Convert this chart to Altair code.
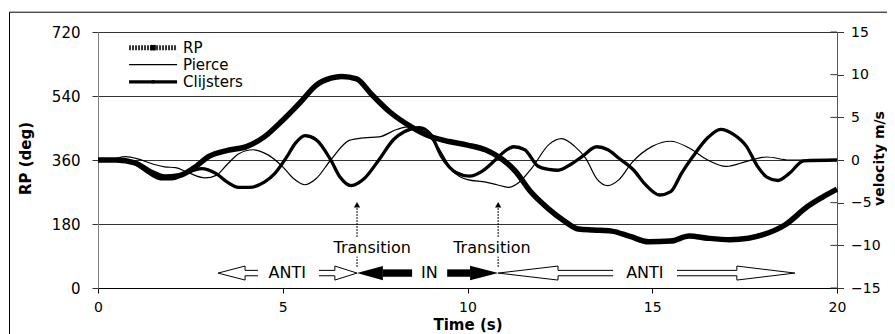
import altair as alt
import pandas as pd

# ---------------- data ----------------
rp_t = [0, 0.5, 1.0, 1.4, 1.8, 2.2, 2.6, 3.0, 3.5, 4.0, 4.5, 5.0, 5.5, 5.9, 6.3, 6.6,
        7.0, 7.4, 7.9, 8.5, 9.0, 9.5, 10.0, 10.5, 10.9, 11.3, 11.7, 12.2, 12.6, 13.0,
        13.4, 13.9, 14.4, 14.9, 15.5, 16.0, 16.5, 17.1, 17.6, 18.0, 18.6, 19.2, 19.6, 20.0]
rp_deg = [360, 360, 352, 328, 312, 316, 338, 370, 387, 397, 425, 472, 525, 570, 590, 595,
          588, 545, 495, 452, 426, 412, 402, 388, 365, 328, 272, 222, 190, 166,
          163, 160, 145, 130, 132, 146, 140, 136, 140, 150, 178, 229, 255, 278]

pierce_t = [0, 0.4, 0.75, 1.1, 1.5, 1.8, 2.1, 2.4, 2.9, 3.2, 3.5, 3.8, 4.2, 4.6, 5.0, 5.3,
            5.6, 5.9, 6.3, 6.8, 7.2, 7.6, 8.1, 8.45, 8.8, 9.2, 9.6, 10.0, 10.5, 10.8, 11.1,
            11.4, 11.75, 12.2, 12.55, 12.9, 13.2, 13.5, 13.8, 14.1, 14.45, 15.0, 15.5, 16.0,
            16.5, 17.0, 17.6, 18.1, 18.7, 19.0, 20.0]
pierce_v = [0, 0.1, 0.4, 0.1, -0.5, -0.8, -0.9, -1.4, -2.1, -1.8, -0.5, 0.7, 1.2, 0.6, -0.8, -2.2,
            -2.9, -2.2, 0, 2.3, 2.6, 2.7, 3.6, 3.9, 3.4, 1.5, -1.3, -2.3, -2.6, -2.9, -3.2,
            -2.6, -0.9, 1.8, 2.5, 1.6, 0.2, -2.2, -3.0, -2.3, -0.3, 1.6, 2.2, 1.4,
            0, -0.75, -0.1, 0.35, 0, 0, 0]

clij_t = [0, 0.6, 1.0, 1.3, 1.7, 2.0, 2.4, 2.8, 3.2, 3.5, 3.8, 4.1, 4.5, 4.8, 5.1, 5.35, 5.6,
          5.9, 6.3, 6.55, 6.85, 7.2, 7.6, 8.0, 8.3, 8.7, 9.0, 9.3, 9.7, 10.05, 10.4, 10.75,
          11.0, 11.25, 11.55, 11.9, 12.2, 12.45, 12.8, 13.1, 13.5, 13.8, 14.1, 14.5, 14.8,
          15.2, 15.5, 15.8, 16.1, 16.5, 16.85, 17.2, 17.55, 17.85, 18.1, 18.4, 18.7, 19.1, 20.0]
clij_v = [0, 0, -0.4, -1.3, -2.2, -2.2, -1.5, -1.0, -1.6, -2.6, -3.2, -3.2, -2.6, -1.5, 0.3, 2.0, 2.85,
          2.4, 0, -2.0, -3.0, -2.2, 0, 2.4, 3.35, 3.8, 3.0, 0.4, -1.5, -1.9, -1.3, 0,
          1.0, 1.55, 1.2, -0.7, -1.1, -1.2, -0.5, 0.4, 1.55, 1.2, 0.2, -1.2, -2.8,
          -4.1, -3.7, -1.5, 0.4, 2.6, 3.6, 3.0, 1.6, -0.75, -2.0, -2.4, -1.6, -0.1, 0]

x_ticks = [0, 5, 10, 15, 20]
rp_ticks = [0, 180, 360, 540, 720]
vel_ticks = [-15, -10, -5, 0, 5, 10, 15]

# legend (placed in data units of the time / RP scales)
legend_labels = ["RP", "Pierce", "Clijsters"]
legend_y = [676, 628, 580]
legend_width = [5, 1.2, 3.3]
legend_marker = [30, 0, 10]
legend_x0, legend_x1, legend_text_x = 0.84, 2.14, 2.3

# transition annotations
transition_t = [7.01, 10.83]
transition_text_t = [7.42, 10.66]
transition_text_y = 113
dot_upper = [144, 229]
dot_lower = [60, 88]
arrowhead_y = 234

# phase block arrows (single-headed pieces)
arrow_y = 42
arrow_tip = [3.25, 7.01, 7.01, 10.83, 10.83, 18.86]
arrow_base = [3.98, 6.41, 7.71, 10.07, 12.45, 17.29]
arrow_end = [4.33, 5.98, 8.5, 9.45, 13.94, 15.67]
arrow_black = [False, False, True, True, False, False]
hollow_shaft, hollow_head = 7.6, 19.7
phase_labels = ["ANTI", "IN", "ANTI"]
phase_label_t = [5.12, 8.97, 14.8]

FONT = "DejaVu Sans"
PLOT_W, PLOT_H = 739, 256
PX_PER_T = PLOT_W / 20.0

# ---------------- scales & axes ----------------
XS = alt.Scale(domain=[0, 20], nice=False, zero=False)
YL = alt.Scale(domain=[0, 720], nice=False, zero=False)
YR = alt.Scale(domain=[-15, 15], nice=False, zero=False)

AX = alt.Axis(values=x_ticks, title="Time (s)", grid=False, tickSize=5, labelPadding=7,
              labelFontSize=14, labelFont=FONT, labelColor="black", labelFlush=False,
              titleFontSize=15, titleFont=FONT, titleFontWeight="bold", titleColor="black",
              titleY=29, titleBaseline="top", domainColor="black", tickColor="black",
              format="d")
AYL = alt.Axis(values=rp_ticks, title="RP (deg)", grid=True, gridColor="#333333", gridWidth=1,
               tickSize=6, tickColor="#333333", labelPadding=12, labelFontSize=15,
               labelFont=FONT, labelColor="black", titleFontSize=15, titleFont=FONT,
               titleFontWeight="bold", titleColor="black", titleX=-73, titleY=126,
               titleAngle=270, titleAlign="center", titleBaseline="middle",
               domainColor="#808080", format="d")
AYR = alt.Axis(orient="right", values=vel_ticks, title="velocity m/s", grid=False,
               tickSize=6.5, tickColor="#333333", labelPadding=7, labelFontSize=14,
               labelFont=FONT, labelColor="black", titleFontSize=14, titleFont=FONT,
               titleFontWeight="bold", titleColor="black", titleX=42, titleY=126,
               titleAngle=270, titleAlign="center", titleBaseline="middle",
               domainColor="#555555", format="d")


def xq(field="t"):
    return alt.X(f"{field}:Q", scale=XS, axis=AX)


def yl(field):
    return alt.Y(f"{field}:Q", scale=YL, axis=AYL)


def yr(field):
    return alt.Y(f"{field}:Q", scale=YR, axis=AYR)


# ---------------- left (RP) group ----------------
rp_df = pd.DataFrame({"t": rp_t, "deg": rp_deg})
rp_line = alt.Chart(rp_df).mark_line(color="black", strokeWidth=5.5,
                                     interpolate="monotone").encode(x=xq("t"), y=yl("deg"))

# frame around the whole figure
frame = alt.Chart(pd.DataFrame({"a": [0]})).mark_rect(
    fillOpacity=0, stroke="black", strokeWidth=1).encode(
    x=alt.value(-88.5), x2=alt.value(805), y=alt.value(-19.8), y2=alt.value(320))

# legend
legend_layers = []
for lab, yv, w, ms in zip(legend_labels, legend_y, legend_width, legend_marker):
    d = pd.DataFrame({"x0": [legend_x0], "x1": [legend_x1], "xm": [(legend_x0 + legend_x1) / 2],
                      "xt": [legend_text_x], "y": [yv], "lab": [lab]})
    props = dict(color="black", strokeWidth=w)
    if lab == "RP":
        props = dict(color="#333333", strokeWidth=w, strokeDash=[2, 1])
    legend_layers.append(alt.Chart(d).mark_rule(**props).encode(
        x=xq("x0"), x2="x1:Q", y=yl("y")))
    if ms:
        legend_layers.append(alt.Chart(d).mark_point(
            shape="square", filled=True, color="black", size=ms, opacity=1).encode(
            x=xq("xm"), y=yl("y")))
    legend_layers.append(alt.Chart(d).mark_text(
        align="left", baseline="middle", font=FONT, fontSize=15, color="black").encode(
        x=xq("xt"), y=yl("y"), text="lab:N"))

# transition dotted arrows and labels
n_tr = len(transition_t)
tr_df = pd.DataFrame({"t": transition_t, "u0": [dot_upper[0]] * n_tr, "u1": [dot_upper[1]] * n_tr,
                      "l0": [dot_lower[0]] * n_tr, "l1": [dot_lower[1]] * n_tr,
                      "ah": [arrowhead_y] * n_tr, "tt": transition_text_t,
                      "ty": [transition_text_y] * n_tr, "lab": ["Transition"] * n_tr})
tr_up = alt.Chart(tr_df).mark_rule(color="black", strokeWidth=1.3, strokeDash=[1.5, 1.5]).encode(
    x=xq("t"), y=yl("u0"), y2="u1:Q")
tr_low = alt.Chart(tr_df).mark_rule(color="black", strokeWidth=1.3, strokeDash=[1.5, 1.5]).encode(
    x=xq("t"), y=yl("l0"), y2="l1:Q")
tr_head = alt.Chart(tr_df).mark_point(shape="triangle-up", filled=True, color="black",
                                      size=40, opacity=1).encode(x=xq("t"), y=yl("ah"))
tr_text = alt.Chart(tr_df).mark_text(font=FONT, fontSize=16, color="black",
                                     baseline="middle").encode(
    x=xq("tt"), y=yl("ty"), text="lab:N")

# hollow arrows: open outlines (shaft ends hidden behind the labels)
hollow_rows, black_rows = [], []
for i in range(len(arrow_tip)):
    tip, base, end = arrow_tip[i], arrow_base[i], arrow_end[i]
    if not arrow_black[i]:
        hs, hh = hollow_shaft, hollow_head
        pts = [(end, hs), (base, hs), (base, hh), (tip, 0), (base, -hh), (base, -hs), (end, -hs)]
        for k, (tv, h) in enumerate(pts):
            hollow_rows.append({"id": i, "k": k, "t": tv, "y": arrow_y + h})
    else:
        black_rows.append({"id": i, "tip": tip, "base": base, "end": end, "y": arrow_y,
                           "mid": (tip + base) / 2, "left": tip < base,
                           "size": (abs(base - tip) * PX_PER_T) ** 2})
hol_df = pd.DataFrame(hollow_rows)
blk_df = pd.DataFrame(black_rows)
arr_hollow = alt.Chart(hol_df).mark_line(color="black", strokeWidth=1, interpolate="linear").encode(
    x=xq("t"), y=yl("y"), detail="id:N", order="k:Q")
blk_shaft = alt.Chart(blk_df).mark_rule(color="black", strokeWidth=7.4, strokeCap="butt").encode(
    x=xq("base"), x2="end:Q", y=yl("y"))
blk_head_l = alt.Chart(blk_df[blk_df.left]).mark_point(
    shape="M -1 0 L 1 -0.55 L 1 0.55 Z", filled=True, color="black", opacity=1).encode(
    x=xq("mid"), y=yl("y"), size=alt.Size("size:Q", scale=None))
blk_head_r = alt.Chart(blk_df[~blk_df.left]).mark_point(
    shape="M 1 0 L -1 -0.52 L -1 0.52 Z", filled=True, color="black", opacity=1).encode(
    x=xq("mid"), y=yl("y"), size=alt.Size("size:Q", scale=None))

ph_df = pd.DataFrame({"t": phase_label_t, "y": [arrow_y] * len(phase_labels), "lab": phase_labels})
phase_text = alt.Chart(ph_df).mark_text(font=FONT, fontSize=16, color="black",
                                        baseline="middle").encode(
    x=xq("t"), y=yl("y"), text="lab:N")

left = alt.layer(frame, arr_hollow, blk_shaft, blk_head_l, blk_head_r, phase_text,
                 tr_up, tr_low, tr_head, tr_text, *legend_layers, rp_line)

# ---------------- right (velocity) group ----------------
p_df = pd.DataFrame({"t": pierce_t, "v": pierce_v})
c_df = pd.DataFrame({"t": clij_t, "v": clij_v})
pierce = alt.Chart(p_df).mark_line(color="black", strokeWidth=1.2,
                                   interpolate="monotone").encode(x=xq("t"), y=yr("v"))
clij = alt.Chart(c_df).mark_line(color="black", strokeWidth=3.3,
                                 interpolate="monotone").encode(x=xq("t"), y=yr("v"))
inner_ticks = alt.Chart(pd.DataFrame({"v": vel_ticks})).mark_rule(
    color="#333333", strokeWidth=1).encode(
    x=alt.value(PLOT_W - 6.5), x2=alt.value(PLOT_W), y=yr("v"))

right = alt.layer(inner_ticks, pierce, clij)

chart = alt.layer(left, right).resolve_scale(y="independent").properties(
    width=PLOT_W, height=PLOT_H,
    padding={"left": 90, "top": 24, "right": 50, "bottom": 46},
    autosize=alt.AutoSizeParams(type="none"),
    background="white",
).configure_view(stroke=None).configure(font=FONT)

chart.save("out.html", embed_options={"renderer": "svg", "actions": False})
